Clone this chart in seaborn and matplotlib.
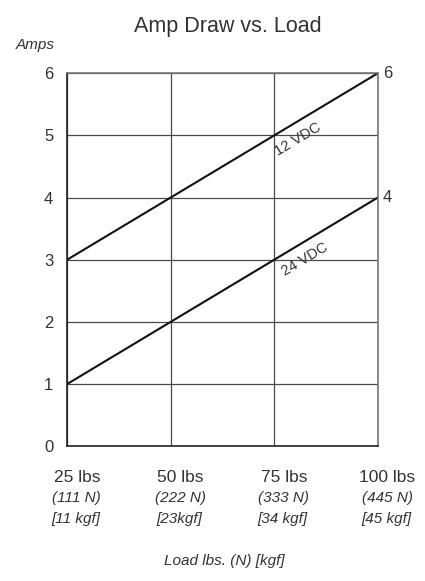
import matplotlib
matplotlib.use("Agg")
import matplotlib.pyplot as plt
import seaborn as sns
import pandas as pd

sns.set_theme(style="white")
plt.rcParams['font.family'] = ['Liberation Sans', 'DejaVu Sans']

TXT = "#333333"

# data
load_lbs = [25, 50, 75, 100]
amps_12vdc = [3, 4, 5, 6]
amps_24vdc = [1, 2, 3, 4]
newton_labels = ["(111 N)", "(222 N)", "(333 N)", "(445 N)"]
kgf_labels = ["[11 kgf]", "[23kgf]", "[34 kgf]", "[45 kgf]"]
y_ticks = [0, 1, 2, 3, 4, 5, 6]

df = pd.DataFrame({
    "load": load_lbs * 2,
    "amps": amps_12vdc + amps_24vdc,
    "series": ["12 VDC"] * 4 + ["24 VDC"] * 4,
})

fig = plt.figure(figsize=(4.25, 5.81), dpi=100)
ax = fig.add_axes([0.158, 0.232, 0.731, 0.642])

sns.lineplot(data=df, x="load", y="amps", units="series", estimator=None,
             color="#111111", linewidth=1.5, ax=ax, legend=False)

ax.set_xlim(25, 100)
ax.set_ylim(0, 6)
ax.set_xticks(load_lbs)
ax.set_yticks(y_ticks)
ax.set_xticklabels([])
ax.set_yticklabels([str(v) for v in y_ticks], fontsize=12, color=TXT)
ax.tick_params(axis="y", length=0, pad=10)
ax.tick_params(axis="x", length=0)
ax.grid(True, color="#4a4a4a", linewidth=0.9)
ax.set_axisbelow(True)
for side in ["top", "right"]:
    ax.spines[side].set_color("#777777")
    ax.spines[side].set_linewidth(1.2)
for side in ["left", "bottom"]:
    ax.spines[side].set_color("#222222")
    ax.spines[side].set_linewidth(1.2)
ax.set_xlabel("")
ax.set_ylabel("")

# x tick labels (three rows)
for x, n, k in zip(load_lbs, newton_labels, kgf_labels):
    ax.annotate(f"{x} lbs", (x, 0), xytext=(7, -22.5), textcoords="offset points",
                ha="center", va="center", fontsize=12.5, color=TXT,
                annotation_clip=False)
    ax.annotate(n, (x, 0), xytext=(7, -37.5), textcoords="offset points",
                ha="center", va="center", fontsize=11, style="italic",
                color=TXT, annotation_clip=False)
    ax.annotate(k, (x, 0), xytext=(6, -52.5), textcoords="offset points",
                ha="center", va="center", fontsize=11, style="italic",
                color=TXT, annotation_clip=False)

# right end values
for v in [amps_12vdc[-1], amps_24vdc[-1]]:
    ax.annotate(str(v), (100, v), xytext=(7, 0), textcoords="offset points",
                ha="center", va="center", fontsize=12, color=TXT,
                annotation_clip=False)

# series labels along the lines
ax.text(80.7, 4.93, "12 VDC", rotation=31, fontsize=10.5,
        ha="center", va="center", color=TXT, rotation_mode="anchor")
ax.text(82.4, 3.0, "24 VDC", rotation=31, fontsize=10.5,
        ha="center", va="center", color=TXT, rotation_mode="anchor")

fig.text(0.537, 0.954, "Amp Draw vs. Load", ha="center", va="center",
         fontsize=15.5, color=TXT)
fig.text(0.083, 0.922, "Amps", ha="center", va="center", fontsize=11,
         style="italic", color=TXT)
fig.text(0.527, 0.034, "Load lbs. (N) [kgf]", ha="center", va="center",
         fontsize=11, style="italic", color=TXT)

fig.savefig("out.png", dpi=100)
